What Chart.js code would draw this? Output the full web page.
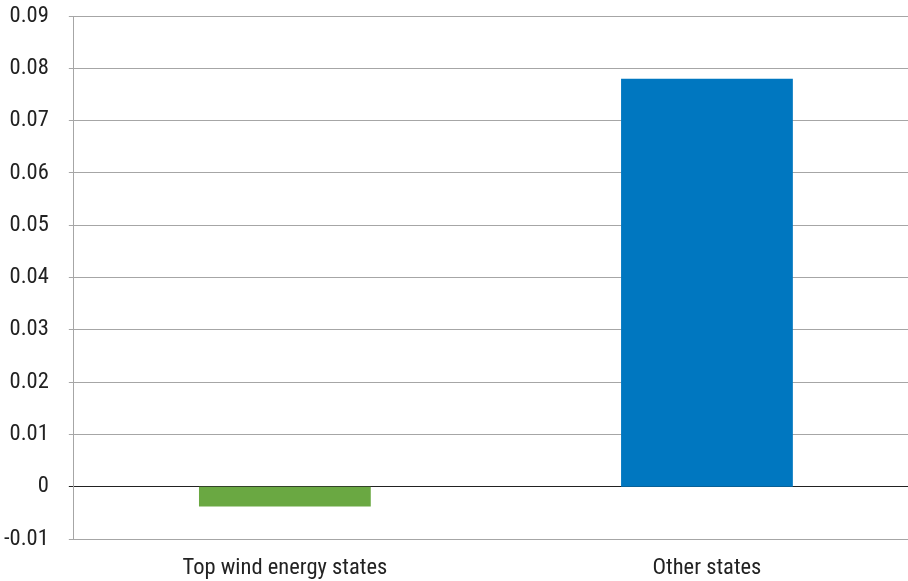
<!DOCTYPE html>
<html><head><meta charset="utf-8">
<script src="https://cdn.jsdelivr.net/npm/chart.js@4"></script>
<style>html,body{margin:0;padding:0;background:#fff;overflow:hidden;width:908px;height:581px}canvas{display:block}</style>
</head><body>
<canvas id="c" width="918" height="581"></canvas>
<script>
const categories = ["Top wind energy states", "Other states"];
const values = [-0.0038, 0.078];
const barColors = ["#6aa842", "#0077c0"];
const yTickLabels = ["-0.01", "0", "0.01", "0.02", "0.03", "0.04", "0.05", "0.06", "0.07", "0.08", "0.09"];

const FONT = "'Liberation Sans Narrow', 'Arial Narrow', 'Roboto Condensed', sans-serif";
new Chart(document.getElementById('c'), {
  type: 'bar',
  data: {
    labels: categories,
    datasets: [{ data: values, backgroundColor: barColors, barPercentage: 0.407, categoryPercentage: 1.0 }]
  },
  options: {
    responsive: false,
    animation: false,
    layout: { padding: { top: 0, right: 0, left: -16, bottom: -9 } },
    plugins: { legend: { display: false }, tooltip: { enabled: false } },
    scales: {
      x: {
        grid: { display: false },
        border: { display: false },
        ticks: { color: '#222', font: { family: FONT, size: 22.5 }, padding: 8 }
      },
      y: {
        min: -0.01, max: 0.09,
        afterFit: s => { s.paddingTop = 16; },
        border: { display: true, color: '#a6a6a6', width: 1 },
        grid: {
          color: ctx => (ctx.tick && Math.abs(ctx.tick.value) < 1e-9) ? '#222' : '#a6a6a6',
          lineWidth: 1,
          tickLength: 5
        },
        ticks: {
          stepSize: 0.01,
          color: '#222',
          padding: 20,
          font: { family: FONT, size: 22.5 },
          callback: (v, i) => yTickLabels[i]
        }
      }
    }
  }
});
</script>
</body></html>
